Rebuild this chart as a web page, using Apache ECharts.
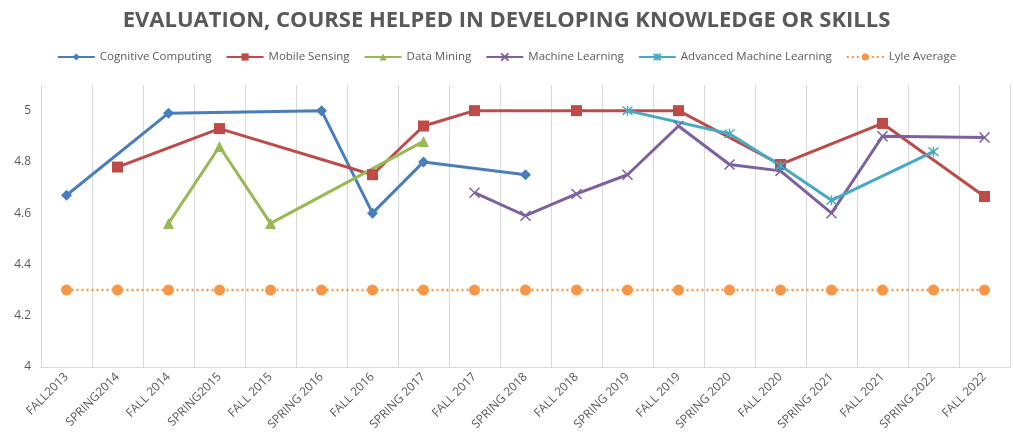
<!DOCTYPE html>
<html>
<head>
<meta charset="utf-8">
<script src="https://cdn.jsdelivr.net/npm/echarts@6/dist/echarts.min.js"></script>
<style>html,body{margin:0;padding:0;background:#fff;}#c{width:1013px;height:442px;}</style>
</head>
<body>
<div id="c"></div>
<script>
const categories = ['FALL2013','SPRING2014','FALL 2014','SPRING2015','FALL 2015','SPRING 2016','FALL 2016','SPRING 2017','FALL 2017','SPRING 2018','FALL 2018','SPRING 2019','FALL 2019','SPRING 2020','FALL 2020','SPRING 2021','FALL 2021','SPRING 2022','FALL 2022'];
const cognitiveComputing = [4.67,null,4.99,null,null,5.0,4.60,4.80,null,4.75,null,null,null,null,null,null,null,null,null];
const mobileSensing = [null,4.78,null,4.93,null,null,4.75,4.94,5.0,null,5.0,null,5.0,null,4.79,null,4.95,null,4.665];
const dataMining = [null,null,4.56,4.86,4.56,null,null,4.88,null,null,null,null,null,null,null,null,null,null,null];
const machineLearning = [null,null,null,null,null,null,null,null,4.68,4.59,4.675,4.75,4.94,4.79,4.765,4.60,4.90,null,4.895];
const advancedML = [null,null,null,null,null,null,null,null,null,null,null,5.0,null,4.91,4.785,4.65,null,4.84,null];
const lyleAverage = [4.3,4.3,4.3,4.3,4.3,4.3,4.3,4.3,4.3,4.3,4.3,4.3,4.3,4.3,4.3,4.3,4.3,4.3,4.3];

const FONT = '"Open Sans", "Liberation Sans", sans-serif';
const xPath = 'path://M0,0L10,10M10,0L0,10';
const starPath = 'path://M0,0L10,10M10,0L0,10M5,-1L5,11';

function lineSeries(name, data, color, symbol, size, extra) {
  return Object.assign({
    name, type: 'line', data, connectNulls: true,
    symbol, symbolSize: size,
    lineStyle: { color, width: 3 },
    itemStyle: { color },
    emphasis: { disabled: true }
  }, extra || {});
}

const chart = echarts.init(document.getElementById('c'), null, { renderer: 'canvas' });
chart.setOption({
  animation: false,
  backgroundColor: '#ffffff',
  title: {
    text: 'EVALUATION, COURSE HELPED IN DEVELOPING KNOWLEDGE OR SKILLS',
    left: 'center', top: 5,
    textStyle: { fontFamily: FONT, fontSize: 22, fontWeight: 'bold', color: '#595959' }
  },
  legend: {
    top: 46, left: 'center',
    itemWidth: 37, itemHeight: 9, itemGap: 14,
    textStyle: { fontFamily: FONT, fontSize: 11.5, color: '#595959' },
    data: ['Cognitive Computing','Mobile Sensing','Data Mining','Machine Learning','Advanced Machine Learning','Lyle Average']
  },
  grid: { left: 41, right: 3, top: 85, bottom: 75 },
  xAxis: {
    type: 'category', data: categories, boundaryGap: true,
    axisTick: { show: false },
    axisLine: { lineStyle: { color: '#d9d9d9', width: 1 } },
    splitLine: { show: true, lineStyle: { color: '#d9d9d9', width: 1 } },
    axisLabel: { rotate: 45, interval: 0, fontFamily: FONT, fontSize: 12, color: '#595959', margin: 8 }
  },
  yAxis: {
    type: 'value', min: 4, max: 5.1, interval: 0.2,
    axisLine: { show: false }, axisTick: { show: false },
    splitLine: { show: false },
    axisLabel: { showMaxLabel: false, fontFamily: FONT, fontSize: 12, color: '#595959', margin: 10 }
  },
  series: [
    lineSeries('Cognitive Computing', cognitiveComputing, '#4A7EBB', 'diamond', 11),
    lineSeries('Mobile Sensing', mobileSensing, '#BE4B48', 'rect', 11),
    lineSeries('Data Mining', dataMining, '#98B954', 'triangle', 11),
    lineSeries('Machine Learning', machineLearning, '#7D60A0', xPath, 10, { itemStyle: { color: 'rgba(0,0,0,0)', borderColor: '#7D60A0', borderWidth: 1.5 } }),
    lineSeries('Advanced Machine Learning', advancedML, '#46AAC5', starPath, 10, { itemStyle: { color: 'rgba(0,0,0,0)', borderColor: '#46AAC5', borderWidth: 1.5 } }),
    lineSeries('Lyle Average', lyleAverage, '#F79646', 'circle', 11, { lineStyle: { color: '#F79646', width: 2.5, type: [2, 3] } })
  ]
});
</script>
</body>
</html>
